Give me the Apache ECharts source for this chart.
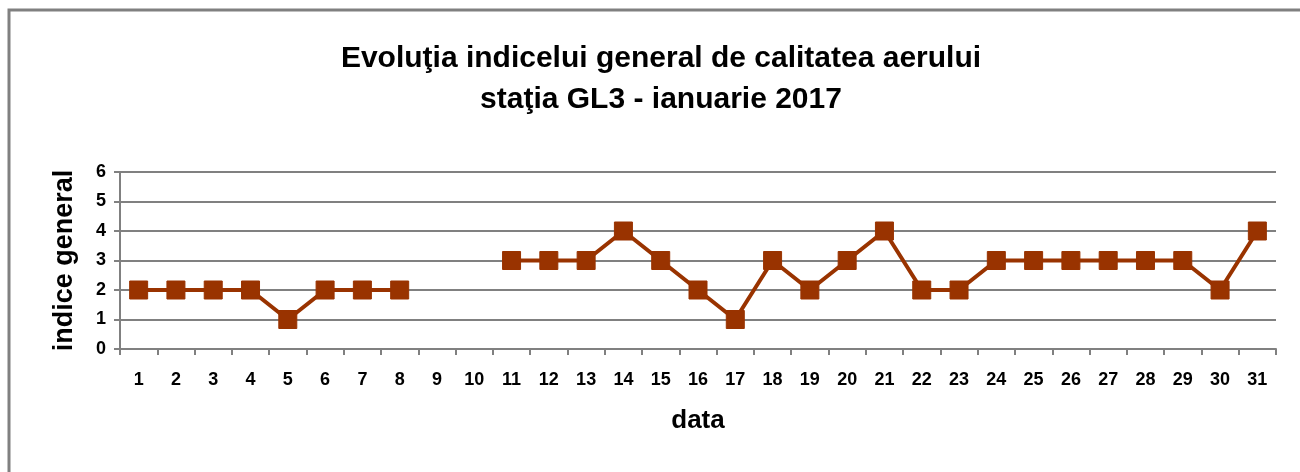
<!DOCTYPE html>
<html><head><meta charset="utf-8">
<script src="https://cdn.jsdelivr.net/npm/echarts@6/dist/echarts.min.js"></script>
<style>html,body{margin:0;padding:0;background:#fff}#c{width:1300px;height:472px}</style>
</head><body><div id="c"></div>
<script>
const days = ['1','2','3','4','5','6','7','8','9','10','11','12','13','14','15','16','17','18','19','20','21','22','23','24','25','26','27','28','29','30','31'];
const indiceGeneral = [2,2,2,2,1,2,2,2,null,null,3,3,3,4,3,2,1,3,2,3,4,2,2,3,3,3,3,3,3,2,4];
const yTicks = [0,1,2,3,4,5,6];
const titleLines = ['Evoluţia indicelui general de calitatea aerului', 'staţia GL3 - ianuarie 2017'];

const chart = echarts.init(document.getElementById('c'));
const F = 'Arial, "Liberation Sans", sans-serif';
chart.setOption({
  animation: false,
  backgroundColor: '#fff',
  graphic: [{
    type: 'rect', shape: {x: 9, y: 10, width: 1320, height: 500},
    style: {fill: 'none', stroke: '#808080', lineWidth: 3}, silent: true
  }],
  title: {
    text: titleLines.join('\n'), left: 656, top: 33, textAlign: 'center',
    textStyle: {fontFamily: F, fontWeight: 'bold', fontSize: 30, lineHeight: 41, color: '#000'}
  },
  grid: {left: 120, right: 24, top: 172, bottom: 123, containLabel: false},
  xAxis: {
    type: 'category', data: days, boundaryGap: true,
    name: 'data', nameLocation: 'middle', nameGap: 59,
    nameTextStyle: {fontFamily: F, fontWeight: 'bold', fontSize: 26, color: '#000'},
    axisLine: {lineStyle: {color: '#808080', width: 2}},
    axisTick: {show: true, length: 6, lineStyle: {color: '#808080', width: 2}},
    axisLabel: {fontFamily: F, fontWeight: 'bold', fontSize: 18, color: '#000', margin: 22, interval: 0},
    splitLine: {show: false}
  },
  yAxis: {
    type: 'value', min: yTicks[0], max: yTicks[yTicks.length-1], interval: 1,
    name: 'indice general', nameLocation: 'middle', nameGap: 42,
    nameTextStyle: {fontFamily: F, fontWeight: 'bold', fontSize: 27, color: '#000'},
    axisLine: {show: true, lineStyle: {color: '#808080', width: 2}},
    axisTick: {show: true, length: 6, lineStyle: {color: '#808080', width: 2}},
    axisLabel: {fontFamily: F, fontWeight: 'bold', fontSize: 18, color: '#000', margin: 14},
    splitLine: {show: true, lineStyle: {color: '#808080', width: 2}}
  },
  series: [{
    type: 'line', data: indiceGeneral, connectNulls: false,
    symbol: 'rect', symbolSize: 18,
    lineStyle: {color: '#993300', width: 4},
    itemStyle: {color: '#993300', borderColor: '#993300'}
  }]
});
</script></body></html>
